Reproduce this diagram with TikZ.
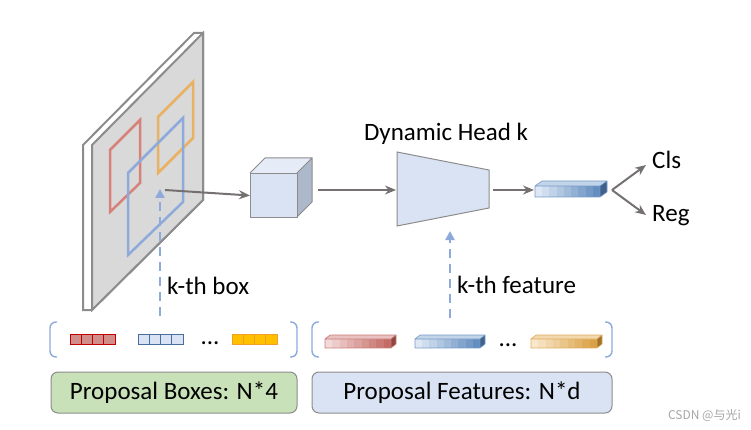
\documentclass[tikz,border=0pt]{standalone}
\usepackage{fontspec}
\setmainfont{Carlito}
\newfontfamily\cjk{Noto Sans CJK SC}
\usetikzlibrary{arrows.meta,calc}
\definecolor{arrgray}{RGB}{118,113,113}
\definecolor{edgegray}{RGB}{140,140,140}
\definecolor{platefill}{RGB}{217,217,217}
\definecolor{dashblue}{RGB}{142,170,219}
\definecolor{boxred}{RGB}{214,130,122}
\definecolor{boxorange}{RGB}{232,178,98}
\definecolor{boxblue}{RGB}{142,170,219}
\definecolor{lightblue}{RGB}{218,227,243}
\definecolor{cubeside}{RGB}{173,185,202}
\definecolor{greenfill}{RGB}{200,225,185}
\definecolor{bLight}{RGB}{222,232,244}
\definecolor{bDark}{RGB}{84,130,185}
\definecolor{rLight}{RGB}{242,218,218}
\definecolor{rDark}{RGB}{190,92,86}
\definecolor{oLight}{RGB}{250,232,205}
\definecolor{oDark}{RGB}{214,152,52}
\definecolor{cellorange}{RGB}{255,192,0}
\definecolor{cellorangeedge}{RGB}{240,160,40}
\definecolor{wmgray}{RGB}{165,165,165}
\newcommand\gradbar[8]{%
  \foreach \i in {0,...,8}{%
    \pgfmathsetmacro\pc{100-\i*11}%
    \fill[color=#5!\pc!#6] ({#1+\i*#3/9},#2) rectangle ({#1+(\i+1)*#3/9},{#2+#4});
  }%
  \fill[#5!80!#6] (#1,#2) -- ++(#7,-#8) -- ++(#3,0) -- ({#1+#3},#2) -- cycle;
  \fill[#6!75!black] ({#1+#3},#2) -- ++(#7,-#8) -- ++(0,#4) -- ({#1+#3},{#2+#4}) -- cycle;
  \draw[#6!80!white, line width=0.6] (#1,#2) -- ++(#7,-#8) -- ++(#3,0) -- ++(0,#4) -- ++(-#7,#8) -- ++(-#3,0) -- cycle
     ({#1+#3},#2) -- ++(#7,-#8) ({#1+#3},#2) -- ++(0,#4) (#1,#2) -- ++(#3,0);
}
\newcommand\cellrow[4]{%
  \foreach \i in {0,...,3}{%
    \draw[fill=#3, draw=#4, line width=1] ({#1+\i*11.25},#2) rectangle ++(11.25,10);
  }%
}
\begin{document}
\begin{tikzpicture}[x=1pt,y=-1pt,
  txt/.style={font=\fontsize{25}{29}\selectfont, inner sep=0pt},
  garrow/.style={draw=arrgray, line width=2, -{Stealth[length=11,width=9]}},
  darrow/.style={draw=dashblue, line width=2.5, dash pattern=on 9pt off 6pt, -{Triangle[length=9,width=9]}},
  brack/.style={draw=dashblue, line width=1.4, rounded corners=6},
  labelbox/.style={draw=edgegray, line width=1, rounded corners=7, minimum height=41, inner sep=0pt, font=\fontsize{25}{29}\selectfont}]
\useasboundingbox (0,0) rectangle (751,430);

% feature map plate
\draw[draw=edgegray, fill=white, line width=2] (83,145) -- (194,33) -- (203,33) -- (203,200) -- (92,310) -- (83,310) -- cycle;
\draw[draw=edgegray, fill=platefill, line width=2] (92,145) -- (203,33) -- (203,200) -- (92,310) -- cycle;
\draw[boxred, line width=2.5] (110,150) -- (140,120) -- (140,183) -- (110,212) -- cycle;
\draw[boxorange, line width=2.5] (158,117) -- (193,82) -- (193,138) -- (158,173) -- cycle;
\draw[boxblue, line width=2.5] (128,173) -- (183,118) -- (183,202) -- (128,255) -- cycle;

\coordinate (pc) at (165,190);
\coordinate (boxsrc) at (160,316);
\coordinate (boxdst) at (160,189);
\draw[darrow] (boxsrc) -- (boxdst);
\node[txt, anchor=west] (kbox) at (167,286) {k-th box};

% cube
\fill[lightblue!70!white] (250,173) -- (265,158) -- (312,158) -- (297,173) -- cycle;
\fill[cubeside] (297,173) -- (312,158) -- (312,202) -- (297,217) -- cycle;
\node[draw=edgegray, fill=lightblue, line width=1, minimum width=47, minimum height=44, inner sep=0pt, anchor=north west] (cube) at (250,173) {};
\draw[edgegray, line width=1] (250,173) -- (265,158) -- (312,158) -- (312,202) -- (297,217) (297,173) -- (312,158);
\draw[garrow] (pc) -- (cube.west);

% dynamic head
\draw[draw=edgegray, fill=lightblue, line width=1] (397,152) -- (489,170) -- (489,208) -- (397,226) -- cycle;
\coordinate (headL) at (396,190);
\coordinate (headR) at (493,190);
\coordinate (cubeR) at (318,190);
\draw[garrow] (cubeR) -- (headL);
\node[txt] (dh) at (446,134) {Dynamic Head k};

\coordinate (featsrc) at (450,318);
\coordinate (featdst) at (450,231);
\draw[darrow] (featsrc) -- (featdst);
\node[txt, anchor=west] (kfeat) at (457,285) {k-th feature};

% output feature bar
\gradbar{535}{186}{65}{11}{bLight}{bDark}{7}{5}
\coordinate (barL) at (534,190);
\coordinate (barR) at (612,190);
\draw[garrow] (headR) -- (barL);
\node[txt, anchor=west] (cls) at (652,160) {Cls};
\node[txt, anchor=west] (reg) at (652,216) {Reg};
\draw[garrow] (barR) -- (646,165);
\draw[garrow] (barR) -- (646,215);

% brackets
\draw[brack] (57,322) -- (50,322) -- (50,357) -- (57,357);
\draw[brack] (290,322) -- (297,322) -- (297,357) -- (290,357);
\draw[brack] (319,322) -- (312,322) -- (312,357) -- (319,357);
\draw[brack] (605,322) -- (612,322) -- (612,357) -- (605,357);

% box cells
\cellrow{70}{334}{rDark!70!white}{red!75!black}
\cellrow{138}{334}{lightblue}{bDark!85!black}
\cellrow{232}{334}{cellorange}{cellorangeedge}
\node[txt, anchor=base] (dots1) at (210,344) {...};

% feature bars
\gradbar{325}{339}{66}{9}{rLight}{rDark}{5}{4}
\gradbar{415}{339}{65}{9}{bLight}{bDark}{5}{4}
\gradbar{531}{339}{66}{9}{oLight}{oDark}{5}{4}
\node[txt, anchor=base] (dots2) at (508,346) {...};

% labels
\node[labelbox, fill=greenfill, minimum width=246] (pb) at (174,392.5) {Proposal Boxes: N*4};
\node[labelbox, fill=lightblue, minimum width=300] (pf) at (462,392.5) {Proposal Features: N*d};

\node[font=\cjk\fontsize{12}{14}\selectfont, text=wmgray, anchor=east, inner sep=0pt] (wm) at (741,415) {CSDN @与光i};
\end{tikzpicture}
\end{document}
